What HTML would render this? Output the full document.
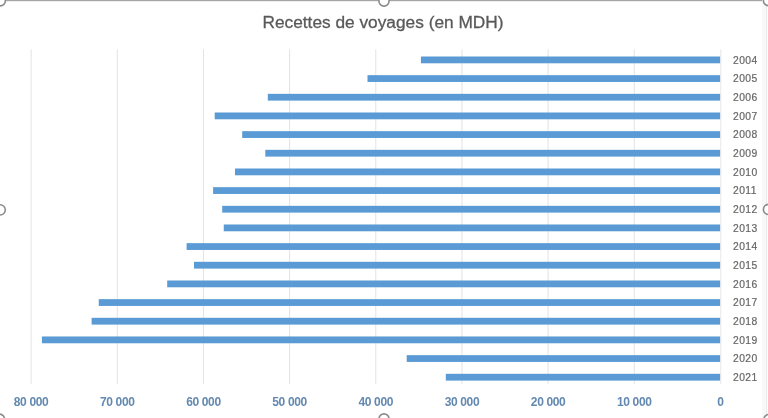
<!DOCTYPE html><html><head><meta charset="utf-8"><style>html,body{margin:0;padding:0;background:#fff;}body{width:768px;height:418px;overflow:hidden;position:relative;font-family:"Liberation Sans",sans-serif;}svg{position:absolute;left:0;top:0;filter:blur(0.35px);}</style></head><body>
<svg width="768" height="418" viewBox="0 0 768 418">
<rect x="0" y="0" width="768" height="418" fill="#fff"/>
<rect x="30.60" y="49.30" width="1" height="335.00" fill="#e3e3e3"/>
<rect x="116.77" y="49.30" width="1" height="335.00" fill="#e3e3e3"/>
<rect x="202.94" y="49.30" width="1" height="335.00" fill="#e3e3e3"/>
<rect x="289.11" y="49.30" width="1" height="335.00" fill="#e3e3e3"/>
<rect x="375.28" y="49.30" width="1" height="335.00" fill="#e3e3e3"/>
<rect x="461.45" y="49.30" width="1" height="335.00" fill="#e3e3e3"/>
<rect x="547.62" y="49.30" width="1" height="335.00" fill="#e3e3e3"/>
<rect x="633.79" y="49.30" width="1" height="335.00" fill="#e3e3e3"/>
<rect x="420.90" y="56.50" width="299.40" height="6.80" fill="#5b9bd5"/>
<rect x="367.50" y="75.16" width="352.80" height="6.80" fill="#5b9bd5"/>
<rect x="267.80" y="93.83" width="452.50" height="6.80" fill="#5b9bd5"/>
<rect x="214.70" y="112.49" width="505.60" height="6.80" fill="#5b9bd5"/>
<rect x="242.20" y="131.16" width="478.10" height="6.80" fill="#5b9bd5"/>
<rect x="265.30" y="149.82" width="455.00" height="6.80" fill="#5b9bd5"/>
<rect x="235.00" y="168.49" width="485.30" height="6.80" fill="#5b9bd5"/>
<rect x="213.10" y="187.16" width="507.20" height="6.80" fill="#5b9bd5"/>
<rect x="222.20" y="205.82" width="498.10" height="6.80" fill="#5b9bd5"/>
<rect x="223.75" y="224.48" width="496.55" height="6.80" fill="#5b9bd5"/>
<rect x="186.60" y="243.15" width="533.70" height="6.80" fill="#5b9bd5"/>
<rect x="194.00" y="261.81" width="526.30" height="6.80" fill="#5b9bd5"/>
<rect x="167.20" y="280.48" width="553.10" height="6.80" fill="#5b9bd5"/>
<rect x="98.75" y="299.14" width="621.55" height="6.80" fill="#5b9bd5"/>
<rect x="91.60" y="317.81" width="628.70" height="6.80" fill="#5b9bd5"/>
<rect x="41.90" y="336.47" width="678.40" height="6.80" fill="#5b9bd5"/>
<rect x="406.70" y="355.14" width="313.60" height="6.80" fill="#5b9bd5"/>
<rect x="445.80" y="373.81" width="274.50" height="6.80" fill="#5b9bd5"/>
<rect x="720.30" y="49.30" width="1" height="335.00" fill="#e6e6e6"/>
<text x="383" y="28.1" font-family="Liberation Sans" font-size="17.3" fill="#595959" stroke="#595959" stroke-width="0.3" text-anchor="middle">Recettes de voyages (en MDH)</text>
<text x="733" y="63.60" font-family="Liberation Sans" font-size="10.3" fill="#666666" stroke="#666666" stroke-width="0.2" letter-spacing="0.45">2004</text>
<text x="733" y="82.27" font-family="Liberation Sans" font-size="10.3" fill="#666666" stroke="#666666" stroke-width="0.2" letter-spacing="0.45">2005</text>
<text x="733" y="100.93" font-family="Liberation Sans" font-size="10.3" fill="#666666" stroke="#666666" stroke-width="0.2" letter-spacing="0.45">2006</text>
<text x="733" y="119.59" font-family="Liberation Sans" font-size="10.3" fill="#666666" stroke="#666666" stroke-width="0.2" letter-spacing="0.45">2007</text>
<text x="733" y="138.26" font-family="Liberation Sans" font-size="10.3" fill="#666666" stroke="#666666" stroke-width="0.2" letter-spacing="0.45">2008</text>
<text x="733" y="156.92" font-family="Liberation Sans" font-size="10.3" fill="#666666" stroke="#666666" stroke-width="0.2" letter-spacing="0.45">2009</text>
<text x="733" y="175.59" font-family="Liberation Sans" font-size="10.3" fill="#666666" stroke="#666666" stroke-width="0.2" letter-spacing="0.45">2010</text>
<text x="733" y="194.25" font-family="Liberation Sans" font-size="10.3" fill="#666666" stroke="#666666" stroke-width="0.2" letter-spacing="0.45">2011</text>
<text x="733" y="212.92" font-family="Liberation Sans" font-size="10.3" fill="#666666" stroke="#666666" stroke-width="0.2" letter-spacing="0.45">2012</text>
<text x="733" y="231.58" font-family="Liberation Sans" font-size="10.3" fill="#666666" stroke="#666666" stroke-width="0.2" letter-spacing="0.45">2013</text>
<text x="733" y="250.25" font-family="Liberation Sans" font-size="10.3" fill="#666666" stroke="#666666" stroke-width="0.2" letter-spacing="0.45">2014</text>
<text x="733" y="268.91" font-family="Liberation Sans" font-size="10.3" fill="#666666" stroke="#666666" stroke-width="0.2" letter-spacing="0.45">2015</text>
<text x="733" y="287.58" font-family="Liberation Sans" font-size="10.3" fill="#666666" stroke="#666666" stroke-width="0.2" letter-spacing="0.45">2016</text>
<text x="733" y="306.24" font-family="Liberation Sans" font-size="10.3" fill="#666666" stroke="#666666" stroke-width="0.2" letter-spacing="0.45">2017</text>
<text x="733" y="324.91" font-family="Liberation Sans" font-size="10.3" fill="#666666" stroke="#666666" stroke-width="0.2" letter-spacing="0.45">2018</text>
<text x="733" y="343.57" font-family="Liberation Sans" font-size="10.3" fill="#666666" stroke="#666666" stroke-width="0.2" letter-spacing="0.45">2019</text>
<text x="733" y="362.24" font-family="Liberation Sans" font-size="10.3" fill="#666666" stroke="#666666" stroke-width="0.2" letter-spacing="0.45">2020</text>
<text x="733" y="380.90" font-family="Liberation Sans" font-size="10.3" fill="#666666" stroke="#666666" stroke-width="0.2" letter-spacing="0.45">2021</text>
<text x="31.10" y="405.8" font-family="Liberation Sans" font-size="12" fill="#6389b1" font-weight="bold" letter-spacing="-0.35" text-anchor="middle">80 000</text>
<text x="117.27" y="405.8" font-family="Liberation Sans" font-size="12" fill="#6389b1" font-weight="bold" letter-spacing="-0.35" text-anchor="middle">70 000</text>
<text x="203.44" y="405.8" font-family="Liberation Sans" font-size="12" fill="#6389b1" font-weight="bold" letter-spacing="-0.35" text-anchor="middle">60 000</text>
<text x="289.61" y="405.8" font-family="Liberation Sans" font-size="12" fill="#6389b1" font-weight="bold" letter-spacing="-0.35" text-anchor="middle">50 000</text>
<text x="375.78" y="405.8" font-family="Liberation Sans" font-size="12" fill="#6389b1" font-weight="bold" letter-spacing="-0.35" text-anchor="middle">40 000</text>
<text x="461.95" y="405.8" font-family="Liberation Sans" font-size="12" fill="#6389b1" font-weight="bold" letter-spacing="-0.35" text-anchor="middle">30 000</text>
<text x="548.12" y="405.8" font-family="Liberation Sans" font-size="12" fill="#6389b1" font-weight="bold" letter-spacing="-0.35" text-anchor="middle">20 000</text>
<text x="634.29" y="405.8" font-family="Liberation Sans" font-size="12" fill="#6389b1" font-weight="bold" letter-spacing="-0.35" text-anchor="middle">10 000</text>
<text x="720.46" y="405.8" font-family="Liberation Sans" font-size="12" fill="#6389b1" font-weight="bold" letter-spacing="-0.35" text-anchor="middle">0</text>
<rect x="0" y="0" width="768" height="1.2" fill="#a6a6a6"/>
<rect x="762" y="0" width="4" height="418" fill="#f8f8f8"/><rect x="766" y="0" width="1.2" height="418" fill="#ebebeb"/>
<circle cx="0.3" cy="0.8" r="5.1" fill="#fff" stroke="#8c8c8c" stroke-width="1.6"/>
<circle cx="384" cy="1" r="5.1" fill="#fff" stroke="#8c8c8c" stroke-width="1.6"/>
<circle cx="768.5" cy="0.5" r="5.1" fill="#fff" stroke="#8c8c8c" stroke-width="1.6"/>
<circle cx="0.2" cy="209.9" r="5.1" fill="#fff" stroke="#8c8c8c" stroke-width="1.6"/>
<circle cx="768.5" cy="209.4" r="5.1" fill="#fff" stroke="#8c8c8c" stroke-width="1.6"/>
<circle cx="-0.5" cy="419.2" r="5.1" fill="#fff" stroke="#8c8c8c" stroke-width="1.6"/>
<circle cx="384" cy="419" r="5.1" fill="#fff" stroke="#8c8c8c" stroke-width="1.6"/>
<circle cx="769" cy="419.5" r="5.1" fill="#fff" stroke="#8c8c8c" stroke-width="1.6"/>
</svg></body></html>
